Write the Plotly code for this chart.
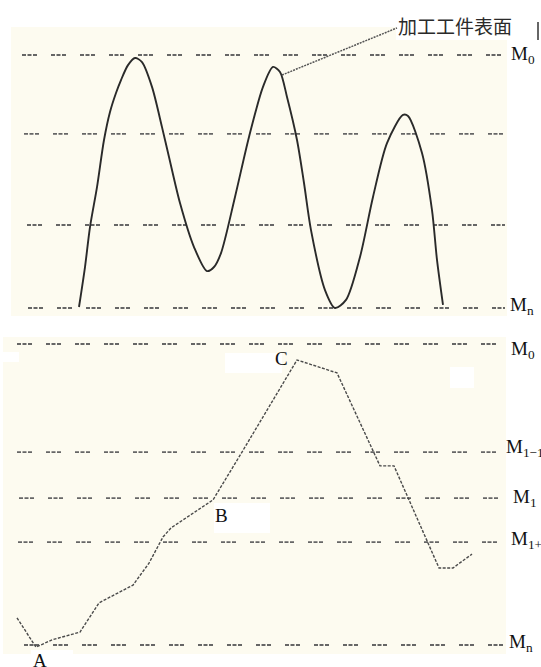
import plotly.graph_objects as go

W, H = 541, 667

# ---------------- data ----------------
# Top panel: machined workpiece surface profile (level units: Mn = 0, M0 = 100)
top_x = [79, 85, 90, 97, 104, 110, 116, 121, 128, 135, 142, 152, 162, 169, 180, 194, 207, 214,
         221, 235, 249, 263, 273, 280, 287, 297, 304, 311, 325, 335, 346, 360, 373, 387, 403,
         408, 422, 432, 437, 443]
top_y = [0.4, 16.2, 32.0, 47.8, 66.4, 77.5, 85.0, 90.1, 96.0, 98.8, 97.2, 87.4, 71.5, 59.7,
         41.5, 24.1, 14.6, 16.2, 21.7, 43.9, 67.6, 87.4, 95.3, 93.3, 83.4, 66.4, 49.4, 30.8,
         7.1, 0.0, 3.2, 20.2, 43.9, 65.2, 76.3, 75.9, 61.3, 38.7, 19.0, 1.2]
top_levels = [100, 68.8, 32.8, 0]
top_level_start = [22, 24, 27, 28]
top_level_end = [505, 505, 505, 505]
top_level_labels = ["M<sub>0</sub>", "", "", "M<sub>n</sub>"]
leader_x = [282, 397]
leader_y = [92.1, 110.7]
surface_label = "加工工件表面"

# Bottom panel: path A-B-C
bot_x = [17, 36, 52, 80, 99, 133, 149, 163, 171, 213, 242, 297, 337, 380, 394, 439, 453, 472]
bot_y = [9.0, -0.7, 1.7, 4.3, 14.0, 19.9, 27.2, 35.9, 38.9, 48.2, 64.1, 94.7, 90.4, 59.5,
         59.5, 25.6, 25.6, 30.2]
bot_levels = [100, 64.1, 48.8, 34.2, 0]
bot_level_start = [17, 17, 19, 18, 24]
bot_level_end = [505, 502, 505, 505, 505]
bot_level_labels = ["M<sub>0</sub>", "M<sub>1\u22121</sub>", "M<sub>1</sub>",
                    "M<sub>1+</sub>", "M<sub>n</sub>"]
point_names = ["A", "B", "C"]
point_index = [1, 9, 11]

# ---------------- styles ----------------
BEIGE = "#fdfbf0"
LEVEL_DASH = "4px,1.5px,4px,1.5px,4px,14px"
LEVEL_COLOR = "#666666"
SERIF = "Liberation Serif, Times New Roman, serif"

def px(v):
    return v / W

def py(v):
    return 1 - v / H

fig = go.Figure()

# level lines, top
for lv, x0, x1 in zip(top_levels, top_level_start, top_level_end):
    fig.add_trace(go.Scatter(x=[x0, x1], y=[lv, lv], mode="lines",
                             line=dict(color=LEVEL_COLOR, width=1.8, dash=LEVEL_DASH),
                             xaxis="x", yaxis="y", hoverinfo="skip", showlegend=False))
# surface profile
fig.add_trace(go.Scatter(x=top_x, y=top_y, mode="lines",
                         line=dict(color="#2a2a2a", width=1.9, shape="spline", smoothing=0.8),
                         xaxis="x", yaxis="y", showlegend=False))
# leader line
fig.add_trace(go.Scatter(x=leader_x, y=leader_y, mode="lines",
                         line=dict(color="#555555", width=1.5, dash="2px,1px"),
                         xaxis="x", yaxis="y", hoverinfo="skip", showlegend=False))

# level lines, bottom
for lv, x0, x1 in zip(bot_levels, bot_level_start, bot_level_end):
    fig.add_trace(go.Scatter(x=[x0, x1], y=[lv, lv], mode="lines",
                             line=dict(color=LEVEL_COLOR, width=1.8, dash=LEVEL_DASH),
                             xaxis="x2", yaxis="y2", hoverinfo="skip", showlegend=False))
# path
fig.add_trace(go.Scatter(x=bot_x, y=bot_y, mode="lines",
                         line=dict(color="#4a4a4a", width=1.4, dash="3px,1.5px"),
                         xaxis="x2", yaxis="y2", showlegend=False))

shapes = [
    # panel backgrounds
    dict(type="rect", xref="paper", yref="paper", x0=px(11), x1=px(507), y0=py(316), y1=py(27),
         fillcolor=BEIGE, line=dict(width=0), layer="below"),
    dict(type="rect", xref="paper", yref="paper", x0=px(3), x1=px(506), y0=py(654), y1=py(337),
         fillcolor=BEIGE, line=dict(width=0), layer="below"),
    # white patches
    dict(type="rect", xref="paper", yref="paper", x0=px(396), x1=px(541), y0=py(40), y1=py(0),
         fillcolor="white", line=dict(width=0), layer="below"),
    dict(type="rect", xref="paper", yref="paper", x0=px(225), x1=px(282), y0=py(373), y1=py(353),
         fillcolor="white", line=dict(width=0), layer="below"),
    dict(type="rect", xref="paper", yref="paper", x0=px(214), x1=px(270), y0=py(533), y1=py(503),
         fillcolor="white", line=dict(width=0), layer="below"),
    dict(type="rect", xref="paper", yref="paper", x0=px(450), x1=px(474), y0=py(388), y1=py(367),
         fillcolor="white", line=dict(width=0), layer="below"),
    dict(type="rect", xref="paper", yref="paper", x0=px(0), x1=px(19), y0=py(362), y1=py(352),
         fillcolor="white", line=dict(width=0), layer="below"),
    dict(type="rect", xref="paper", yref="paper", x0=px(31), x1=px(73), y0=py(667), y1=py(650),
         fillcolor="white", line=dict(width=0), layer="below"),
    # small stray mark top right
    dict(type="line", xref="paper", yref="paper", x0=px(538), x1=px(538), y0=py(40), y1=py(22),
         line=dict(color="#666666", width=2)),
]

annotations = []
top_label_x = [509, 0, 0, 508]
top_label_shift = [0, 0, 0, 2]
for lab, lv, lx, sh in zip(top_level_labels, top_levels, top_label_x, top_label_shift):
    if lab:
        annotations.append(dict(text=lab, xref="paper", yref="y", x=px(lx), y=lv,
                                xanchor="left", yanchor="middle", yshift=sh, showarrow=False,
                                font=dict(family=SERIF, size=19, color="#111111")))
bot_label_x = [509, 504, 511, 509, 507]
bot_label_shift = [-6, 4, 0, 2, 2]
for lab, lv, lx, sh in zip(bot_level_labels, bot_levels, bot_label_x, bot_label_shift):
    annotations.append(dict(text=lab, xref="paper", yref="y2", x=px(lx), y=lv,
                            xanchor="left", yanchor="middle", yshift=sh, showarrow=False,
                            font=dict(family=SERIF, size=19, color="#111111")))

pt_shift = [(4, -13), (8, -16), (-16, 1)]
for name, idx, (dx, dy) in zip(point_names, point_index, pt_shift):
    annotations.append(dict(text=name, xref="x2", yref="y2", x=bot_x[idx], y=bot_y[idx],
                            xshift=dx, yshift=dy, showarrow=False,
                            xanchor="center", yanchor="middle",
                            font=dict(family=SERIF, size=19, color="#111111")))

annotations.append(dict(text=surface_label, xref="paper", yref="paper", x=px(396), y=py(25),
                        xanchor="left", yanchor="middle", showarrow=False,
                        font=dict(family="Noto Sans CJK SC", size=19, color="#2a2a2a")))

fig.update_layout(
    width=W, height=H, autosize=False,
    margin=dict(l=0, r=0, t=0, b=0),
    paper_bgcolor="white", plot_bgcolor="rgba(0,0,0,0)",
    showlegend=False,
    shapes=shapes, annotations=annotations,
    xaxis=dict(domain=[px(11), px(507)], range=[11, 507], visible=False, anchor="y"),
    yaxis=dict(domain=[py(316), py(27)], range=[-3.16, 111.07], visible=False, anchor="x"),
    xaxis2=dict(domain=[px(3), px(506)], range=[3, 506], visible=False, anchor="y2"),
    yaxis2=dict(domain=[py(654), py(337)], range=[-2.99, 102.33], visible=False, anchor="x2"),
)

fig.write_html("out.html", config={"displayModeBar": False},
               post_script="document.body.style.margin='0';document.body.style.padding='0';")
